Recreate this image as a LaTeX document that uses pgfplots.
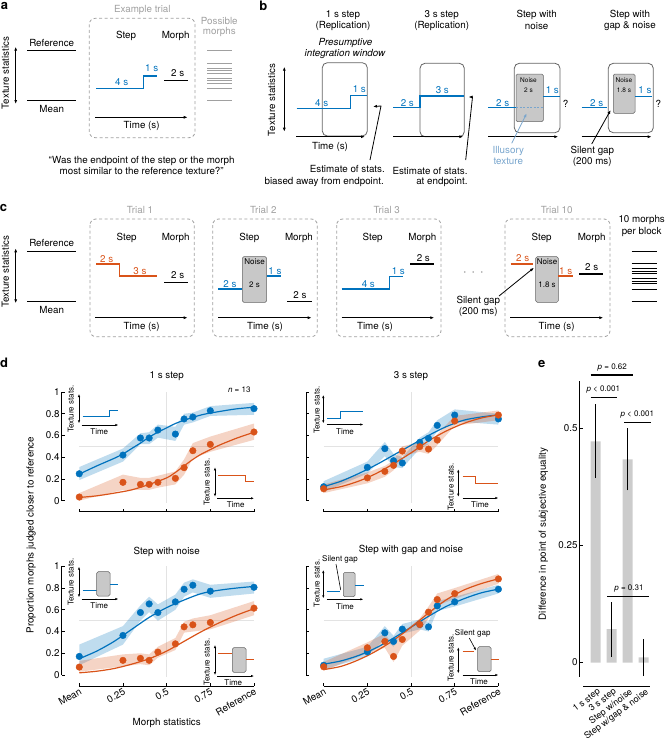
\documentclass[border=0pt]{standalone}
\usepackage{pgfplots}
\pgfplotsset{compat=1.18}
\usepackage{fontspec}
\setmainfont{TeX Gyre Heros}
\usetikzlibrary{arrows.meta}
\definecolor{mblue}{RGB}{0,114,189}
\definecolor{morange}{RGB}{217,83,25}
\definecolor{lblue}{RGB}{120,165,205}
\definecolor{boxg}{RGB}{200,200,200}
\definecolor{boxe}{RGB}{100,100,100}
\definecolor{dashg}{RGB}{160,160,160}
\definecolor{barg}{RGB}{204,204,204}
\newcommand\fa{\fontsize{9.8}{11}\selectfont}
\newcommand\fe{\fontsize{9}{10}\selectfont}
\newcommand\fb{\fontsize{8}{9}\selectfont}
\newcommand\fc{\fontsize{6.5}{7.5}\selectfont}
\newcommand\fl{\fontsize{13}{14}\selectfont\bfseries}
\tikzset{
 t/.style={font=\fa, inner sep=0pt},
 ts/.style={font=\fb, inner sep=0pt},
 tn/.style={font=\fc, inner sep=0pt},
 pl/.style={font=\fl, inner sep=0pt},
 dbox/.style={dashg, line width=0.8pt, dash pattern=on 3pt off 2.5pt, rounded corners=6pt},
 wbox/.style={boxe, line width=0.8pt, rounded corners=5pt},
 nbox/.style={fill=boxg, draw=boxe, line width=0.5pt, rounded corners=1.5pt},
 arr/.style={-{Latex[length=4pt,width=3pt]}, line width=0.8pt},
 darr/.style={{Latex[length=4pt,width=3pt]}-{Latex[length=4pt,width=3pt]}, line width=0.8pt},
 sarr/.style={-{Latex[length=3pt,width=2.4pt]}, line width=0.6pt},
 sdarr/.style={{Latex[length=3pt,width=2.4pt]}-{Latex[length=3pt,width=2.4pt]}, line width=0.6pt},
}
\pgfplotsset{
 sl/.style={line width=1.1pt},
 il/.style={line width=0.9pt},
 dax/.style={anchor=south west, scale only axis, width=192.2pt, height=119.6pt,
   xmin=-0.1, xmax=1, ymin=-0.1, ymax=1, axis line style={draw=none},
   tick pos=left, tick align=inside, major tick length=3pt,
   tick style={black, line width=0.6pt},
   xtick={0,0.25,0.5,0.75,1}, ytick={0,0.2,0.4,0.6,0.8,1}, clip=false,
   tick label style={font=\fa},
   xticklabel style={rotate=30, anchor=north east, inner sep=1pt},
   yticklabel style={inner sep=2pt}},
 band/.style={draw=none, fill=#1, fill opacity=0.25},
 fit/.style={#1, line width=1.2pt, smooth},
 pts/.style={#1, only marks, mark=*, mark size=3.3pt},
}
\newcommand\axdeco{%
 \draw[gray!22, line width=0.5pt] (axis cs:0.5,-0.02) -- (axis cs:0.5,1);
 \draw[gray!22, line width=0.5pt] (axis cs:0,0.5) -- (axis cs:1,0.5);
 \draw[line width=0.6pt] (axis cs:-0.1,0) -- (axis cs:-0.1,1);
 \draw[line width=0.6pt] (axis cs:0,-0.1) -- (axis cs:1,-0.1);}
\begin{document}
\begin{tikzpicture}
% ---------------- d: 1 s step
\begin{axis}[dax, at={(61.8pt,228.4pt)}, xticklabels={}, yticklabels={0,0.2,0.4,0.6,0.8,1}]
\axdeco
\addplot[band=mblue] coordinates {(0,.31)(.25,.48)(.35,.62)(.4,.63)(.45,.70)(.55,.68)(.6,.80)(.65,.81)(.75,.87)(1,.90)(1,.79)(.75,.78)(.65,.72)(.6,.70)(.55,.55)(.45,.58)(.4,.52)(.35,.52)(.25,.36)(0,.19)};
\addplot[band=morange] coordinates {(0,.07)(.25,.24)(.35,.21)(.4,.21)(.45,.23)(.55,.27)(.6,.38)(.65,.53)(.75,.59)(1,.71)(1,.56)(.75,.45)(.65,.39)(.6,.24)(.55,.15)(.45,.12)(.4,.10)(.35,.10)(.25,.10)(0,0)};
\addplot[fit=mblue] coordinates {(0,.245)(.1,.32)(.2,.39)(.25,.43)(.3,.48)(.35,.53)(.4,.585)(.45,.63)(.5,.67)(.55,.71)(.6,.74)(.7,.79)(.8,.82)(.9,.845)(1,.86)};
\addplot[fit=morange] coordinates {(0,.03)(.1,.045)(.2,.07)(.3,.1)(.4,.15)(.5,.21)(.55,.26)(.6,.32)(.65,.38)(.7,.43)(.75,.47)(.8,.51)(.9,.575)(1,.63)};
\addplot[pts=mblue] coordinates {(0,0.248)(0.25,0.42)(0.35,0.577)(0.4,0.577)(0.45,0.65)(0.55,0.613)(0.6,0.752)(0.65,0.77)(0.75,0.828)(1,0.847)};
\addplot[pts=morange] coordinates {(0,.034)(.25,.169)(.35,.15)(.4,.15)(.45,.169)(.55,.206)(.6,.304)(.65,.46)(.75,.518)(1,.632)};
\end{axis}

% ---------------- d: 3 s step
\begin{axis}[dax, at={(306.2pt,228.4pt)}, xticklabels={}, yticklabels={}]
\axdeco
\addplot[band=mblue] coordinates {(0,.18)(.25,.36)(.35,.54)(.4,.43)(.45,.40)(.55,.58)(.6,.63)(.65,.74)(.75,.84)(1,.80)(1,.70)(.75,.73)(.65,.64)(.6,.52)(.55,.48)(.45,.30)(.4,.31)(.35,.41)(.25,.25)(0,.08)};
\addplot[band=morange] coordinates {(0,.15)(.25,.26)(.35,.32)(.4,.37)(.45,.50)(.55,.54)(.6,.52)(.65,.61)(.75,.78)(1,.83)(1,.74)(.75,.69)(.65,.51)(.6,.43)(.55,.45)(.45,.41)(.4,.28)(.35,.22)(.25,.16)(0,.07)};
\addplot[fit=mblue] coordinates {(0,.13)(.1,.18)(.2,.25)(.3,.33)(.4,.42)(.5,.51)(.6,.60)(.7,.68)(.8,.74)(.9,.77)(1,.79)};
\addplot[fit=morange] coordinates {(0,.10)(.1,.13)(.2,.18)(.3,.25)(.4,.34)(.5,.44)(.6,.55)(.7,.64)(.8,.71)(.9,.76)(1,.79)};
\addplot[pts=mblue] coordinates {(0,.129)(.25,.307)(.35,.479)(.4,.368)(.45,.347)(.55,.537)(.6,.574)(.65,.693)(.75,.788)(1,.752)};
\addplot[pts=morange] coordinates {(0,.11)(.25,.21)(.35,.27)(.4,.325)(.45,.457)(.55,.497)(.6,.475)(.65,.558)(.75,.733)(1,.788)};
\end{axis}

% ---------------- d: step with noise
\begin{axis}[dax, at={(61.8pt,54.1pt)}, xticklabels={Mean,0.25,0.5,0.75,Reference}, yticklabels={0,0.2,0.4,0.6,0.8,1}]
\axdeco
\addplot[band=mblue] coordinates {(0,.28)(.25,.45)(.35,.64)(.4,.72)(.45,.65)(.55,.74)(.6,.85)(.65,.88)(.75,.83)(1,.86)(1,.75)(.75,.71)(.65,.76)(.6,.72)(.55,.60)(.45,.50)(.4,.58)(.35,.50)(.25,.28)(0,.09)};
\addplot[band=morange] coordinates {(0,.13)(.25,.19)(.35,.20)(.4,.19)(.45,.26)(.55,.34)(.6,.49)(.65,.52)(.75,.55)(1,.68)(1,.55)(.75,.42)(.65,.40)(.6,.39)(.55,.23)(.45,.16)(.4,.09)(.35,.10)(.25,.08)(0,.03)};
\addplot[fit=mblue] coordinates {(0,.15)(.1,.22)(.2,.31)(.3,.42)(.4,.53)(.5,.62)(.6,.69)(.7,.75)(.8,.78)(.9,.80)(1,.815)};
\addplot[fit=morange] coordinates {(0,.02)(.1,.035)(.2,.06)(.3,.10)(.4,.15)(.5,.22)(.6,.31)(.7,.40)(.8,.48)(.9,.55)(1,.61)};
\addplot[pts=mblue] coordinates {(0,.171)(.25,.364)(.35,.575)(.4,.654)(.45,.575)(.55,.673)(.6,.789)(.65,.826)(.75,.771)(1,.807)};
\addplot[pts=morange] coordinates {(0,.073)(.25,.135)(.35,.153)(.4,.135)(.45,.211)(.55,.287)(.6,.443)(.65,.462)(.75,.483)(1,.615)};
\end{axis}

% ---------------- d: step with gap and noise
\begin{axis}[dax, at={(306.2pt,54.1pt)}, xticklabels={Mean,0.25,0.5,0.75,Reference}, yticklabels={}]
\axdeco
\addplot[band=mblue] coordinates {(0,.15)(.25,.26)(.35,.45)(.4,.36)(.45,.47)(.55,.51)(.6,.49)(.65,.68)(.75,.72)(1,.83)(1,.75)(.75,.63)(.65,.59)(.6,.40)(.55,.42)(.45,.38)(.4,.26)(.35,.33)(.25,.17)(0,.05)};
\addplot[band=morange] coordinates {(0,.12)(.25,.30)(.35,.38)(.4,.27)(.45,.39)(.55,.52)(.6,.63)(.65,.75)(.75,.80)(1,.93)(1,.84)(.75,.70)(.65,.64)(.6,.52)(.55,.41)(.45,.27)(.4,.12)(.35,.25)(.25,.20)(0,.04)};
\addplot[fit=mblue] coordinates {(0,.10)(.1,.13)(.2,.18)(.3,.25)(.4,.34)(.5,.44)(.6,.54)(.7,.63)(.8,.70)(.9,.755)(1,.79)};
\addplot[fit=morange] coordinates {(0,.05)(.1,.08)(.2,.14)(.3,.22)(.4,.32)(.5,.44)(.6,.57)(.7,.69)(.8,.78)(.9,.84)(1,.885)};
\addplot[pts=mblue] coordinates {(0,.09)(.25,.214)(.35,.388)(.4,.309)(.45,.422)(.55,.465)(.6,.443)(.65,.636)(.75,.673)(1,.789)};
\addplot[pts=morange] coordinates {(0,.076)(.25,.251)(.35,.309)(.4,.171)(.45,.327)(.55,.465)(.6,.578)(.65,.694)(.75,.749)(1,.884)};
\end{axis}

% ---------------- e
\begin{axis}[anchor=south west, at={(579.7pt,54pt)}, scale only axis, width=72pt, height=305pt,
  xmin=0, xmax=4.5, ymin=-0.05, ymax=0.6, axis line style={draw=none},
  tick pos=left, tick align=inside, major tick length=3pt, tick style={black,line width=0.6pt},
  xtick={1,2,3,4}, xticklabels={1 s step,3 s step,Step w/noise,Step w/gap \& noise},
  xtick style={draw=none}, ytick={0,0.25,0.5}, yticklabels={0,0.25,0.5},
  tick label style={font=\fa}, xticklabel style={font=\fe, rotate=37, anchor=north east, inner sep=0pt, yshift=-2pt},
  yticklabel style={inner sep=2pt}, clip=false]
\addplot[ybar, bar width=10pt, bar shift=0pt, fill=barg, draw=none] coordinates {(1,0.4716)(2,0.071)(3,0.433)(4,0.011)};
\addplot[black, line width=1.2pt] coordinates {(1,0.393)(1,0.55)};
\addplot[black, line width=1.2pt] coordinates {(2,0.012)(2,0.129)};
\addplot[black, line width=1.2pt] coordinates {(3,0.367)(3,0.499)};
\addplot[black, line width=1.2pt] coordinates {(4,-0.029)(4,0.051)};
\draw[line width=0.6pt] (axis cs:0,-0.03) -- (axis cs:0,0.6);
\draw[line width=0.6pt] (axis cs:0.23,-0.05) -- (axis cs:4.4,-0.05);
\end{axis}

% ---------------- background axis: schematics and annotations (pixel coordinates)
\begin{axis}[name=bg, at={(0,0)}, anchor=south west, scale only axis, width=667pt, height=740pt,
  xmin=0, xmax=667, ymin=0, ymax=740, y dir=reverse, hide axis, clip=false]
% ---------------- panel a
\node[pl] at (4.5,5.5) {a};
\node[t,rotate=90] at (5.5,73) {Texture statistics};
\draw[darr] (15.7,46.7) -- (15.7,104);
\addplot[black, line width=1pt] coordinates {(27.3,50.7)(76,50.7)};
\addplot[black, line width=1pt] coordinates {(27.3,100.7)(76,100.7)};
\node[t] at (51.7,42.7) {Reference};
\node[t] at (51.7,109) {Mean};
\node[t, dashg] at (142.3,10) {Example trial};
\draw[dbox] (89.3,18.3) rectangle (195,137.7);
\node[t] at (126,36) {Step};
\node[t] at (175.7,36) {Morph};
\addplot[mblue, sl] coordinates {(96,88.3)(143.3,88.3)(143.3,76)(157.3,76)};
\node[t, mblue] at (121.7,82) {4 s};
\node[t, mblue] at (151.7,68.5) {1 s};
\addplot[black, sl] coordinates {(164,80.7)(187.7,80.7)};
\node[t] at (177.7,73) {2 s};
\draw[arr] (95,117.3) -- (187.7,117.3);
\node[t] at (141.7,126) {Time (s)};
\node[t, dashg] at (219.3,20.7) {Possible};
\node[t, dashg] at (219.3,32.3) {morphs};
\pgfplotsinvokeforeach{50.7,63.2,68.2,70.7,73.2,78.2,80.7,83.2,88.2,100.7}{\addplot[dashg, line width=0.9pt] coordinates {(207.3,#1)(231.7,#1)};}
\node[t] at (141.7,160.7) {``Was the endpoint of the step or the morph};
\node[t] at (141.7,171) {most similar to the reference texture?''};
% ---------------- panel b
\node[pl] at (263.3,5.5) {b};
\node[t,rotate=90] at (271.7,100) {Texture statistics};
\draw[darr] (284.3,66.7) -- (284.3,131.7);
\node[t] at (343,15) {1 s step};
\node[t] at (343,26) {(Replication)};
\node[t, font=\fa\itshape] at (345.5,42.7) {Presumptive};
\node[t, font=\fa\itshape] at (345,54) {integration window};
\draw[wbox] (322.3,62.7) rectangle (367.3,136);
\addplot[mblue, sl] coordinates {(296.7,108.3)(350.7,108.3)(350.7,95.7)(366.7,95.7)};
\node[t, mblue] at (321.7,103) {4 s};
\node[t, mblue] at (359.3,89.3) {1 s};
\draw[arr] (296,136.7) -- (365,136.7);
\node[t] at (330,146.7) {Time (s)};
\draw[arr] (370,160) -- (381,106) -- (373,106.5);
\node[t, anchor=east] at (385,169.3) {Estimate of stats.};
\node[t, anchor=east] at (384,181.7) {biased away from endpoint.};
\node[t] at (441.7,15) {3 s step};
\node[t] at (441.7,26) {(Replication)};
\draw[wbox] (420,63.3) rectangle (464.3,136.7);
\addplot[mblue, sl] coordinates {(393.3,107.7)(420,107.7)(420,96)(464.3,96)};
\node[t, mblue] at (407.3,103) {2 s};
\node[t, mblue] at (442.3,90.5) {3 s};
\draw[arr] (393.3,136.7) -- (463.3,136.7);
\draw[arr] (465.7,160) -- (472.5,97) -- (468.5,97);
\node[t, anchor=east] at (467.7,170.7) {Estimate of stats.};
\node[t, anchor=east] at (467.7,181.7) {at endpoint.};
\node[t] at (536.7,15) {Step with};
\node[t] at (536.7,26) {noise};
\draw[wbox] (514.3,63.3) rectangle (560,132.7);
\draw[nbox] (516,74) rectangle (543.3,121.7);
\node[tn] at (528.5,80) {Noise};
\node[tn] at (528.5,90.7) {2 s};
\addplot[mblue, sl] coordinates {(488.3,107.7)(516,107.7)};
\addplot[lblue, line width=1.1pt, dash pattern=on 2pt off 1.5pt] coordinates {(516,107.7)(543.3,107.7)};
\addplot[mblue, sl] coordinates {(543.3,96.7)(560,96.7)};
\node[t, mblue] at (502.7,103) {2 s};
\node[t, mblue] at (552.3,90.5) {1 s};
\node[t] at (565.7,104) {?};
\draw[arr] (488.3,136.7) -- (558.3,136.7);
\node[t, lblue] at (508.3,150.7) {Illusory};
\node[t, lblue] at (508.3,161.7) {texture};
\draw[arr, lblue] (511.7,143.3) -- (526.7,113.3);
\node[t] at (630,15) {Step with};
\node[t] at (630,26) {gap \& noise};
\draw[wbox] (608.3,63.3) rectangle (653.3,132.7);
\draw[nbox] (613.3,74) rectangle (635,113.3);
\node[tn] at (624,80) {Noise};
\node[tn] at (624,90.7) {1.8 s};
\addplot[mblue, sl] coordinates {(581.7,107.7)(607.3,107.7)};
\addplot[mblue, sl] coordinates {(635,96.7)(651.7,96.7)};
\node[t, mblue] at (596.7,103) {2 s};
\node[t, mblue] at (645,90.5) {1 s};
\node[t] at (658.3,104) {?};
\draw[arr] (581.7,136.7) -- (651.7,136.7);
\draw[arr] (591.7,144) -- (610.7,110);
\node[t] at (592.3,150.5) {Silent gap};
\node[t] at (592.3,161.7) {(200 ms)};
% ---------------- panel c
\node[pl] at (3.5,208.3) {c};
\node[t,rotate=90] at (5.5,271.7) {Texture statistics};
\draw[darr] (15.7,248.3) -- (15.7,303.3);
\addplot[black,line width=1pt] coordinates {(27.3,251.7)(76,251.7)};
\addplot[black,line width=1pt] coordinates {(27.3,301.7)(76,301.7)};
\node[t] at (51.7,243.3) {Reference};
\node[t] at (51.7,310) {Mean};
\draw[dbox] (90,219) rectangle (194.3,336.7);
\draw[dbox] (212.7,219) rectangle (317.3,336.7);
\draw[dbox] (336.7,219) rectangle (441,336.7);
\draw[dbox] (505,219) rectangle (610,336.7);
\node[t,dashg] at (140,210) {Trial 1};
\node[t,dashg] at (263.3,210) {Trial 2};
\node[t,dashg] at (386.7,210) {Trial 3};
\node[t,dashg] at (556.7,210) {Trial 10};
\node[t] at (126.7,237.7) {Step}; \node[t] at (175.7,237.7) {Morph};
\node[t] at (249.3,237.7) {Step}; \node[t] at (299,237.7) {Morph};
\node[t] at (372.7,237.7) {Step}; \node[t] at (422.3,237.7) {Morph};
\node[t] at (541.7,237.7) {Step}; \node[t] at (591.7,237.7) {Morph};
\addplot[morange, sl] coordinates {(96,264)(119.3,264)(119.3,276)(157.3,276)};
\node[t,morange] at (106.7,259) {2 s};
\node[t,morange] at (140,271) {3 s};
\addplot[black, sl] coordinates {(164,282.3)(187.7,282.3)};
\node[t] at (177.7,275) {2 s};
\addplot[mblue, sl] coordinates {(218.3,289)(242.3,289)};
\draw[nbox] (242.3,256.7) rectangle (266.7,302.3);
\node[ts] at (254.5,261.5) {Noise};
\node[ts] at (254.5,284.3) {2 s};
\addplot[mblue, sl] coordinates {(267.3,276)(281,276)};
\node[t,mblue] at (230,284) {2 s};
\node[t,mblue] at (275,271) {1 s};
\addplot[black, sl] coordinates {(287.3,301.7)(311.7,301.7)};
\node[t] at (300,295) {2 s};
\addplot[mblue, sl] coordinates {(341.7,289)(389.3,289)(389.3,276.7)(403.3,276.7)};
\node[t,mblue] at (368.3,284) {4 s};
\node[t,mblue] at (398.3,271) {1 s};
\addplot[black, sl] coordinates {(410,264)(434.3,264)};
\node[t] at (423.3,258) {2 s};
\node[inner sep=0pt, dashg, font=\fontsize{16}{16}\selectfont] at (473.3,274) {·\hspace{4pt}·\hspace{4pt}·};
\addplot[morange, sl] coordinates {(510.7,264)(533.3,264)};
\draw[nbox] (535.7,256.7) rectangle (558.3,302.3);
\node[ts] at (547,261.5) {Noise};
\node[ts] at (547,284.3) {1.8 s};
\addplot[morange, sl] coordinates {(558.3,276)(573.3,276)};
\node[t,morange] at (522.7,258.3) {2 s};
\node[t,morange] at (565.7,271) {1 s};
\addplot[black, sl] coordinates {(579.3,274)(603.3,274)};
\node[t] at (591.7,266.7) {2 s};
\draw[arr] (499,296) -- (534,267.7);
\node[t] at (478.3,300.5) {Silent gap};
\node[t] at (478.3,311.7) {(200 ms)};
\node[t] at (641.7,220) {10 morphs};
\node[t] at (641.7,232.3) {per block};
\pgfplotsinvokeforeach{251,263.7,268.7,271.3,273.8,278.9,281.4,283.9,289,301.7}{\addplot[black, line width=1pt] coordinates {(631.7,#1)(656.7,#1)};}
\draw[arr] (95,317.7) -- (187.7,317.7); \node[t] at (141.7,326.5) {Time (s)};
\draw[arr] (218.3,317.7) -- (311.7,317.7); \node[t] at (265,326.5) {Time (s)};
\draw[arr] (341.7,317.7) -- (434.3,317.7); \node[t] at (375,326.5) {Time (s)};
\draw[arr] (510,317.7) -- (603.3,317.7); \node[t] at (556.7,326.5) {Time (s)};
% ---------------- panel d texts and insets
\node[pl] at (4,363) {d};
\node[t] at (166.7,375.7) {1 s step};
\node[t] at (411,375.7) {3 s step};
\node[t] at (166.7,551.5) {Step with noise};
\node[t] at (411,550) {Step with gap and noise};
\node[ts] at (239.3,389.3) {\textit{n} = 13};
\node[t,rotate=90] at (31,535) {Proportion morphs judged closer to reference};
\node[t] at (166.7,723.3) {Morph statistics};
% TL insets
\node[ts,rotate=90] at (70.7,409) {Texture stats.};
\draw[sdarr] (79,394) -- (79,423.3);
\draw[sarr] (81.7,425) -- (118.3,425);
\node[ts] at (99.3,431.7) {Time};
\addplot[mblue, il] coordinates {(82.7,416.7)(109.3,416.7)(109.3,410)(118.3,410)};
\node[ts,rotate=90] at (206.7,482) {Texture stats.};
\draw[sdarr] (215,467.3) -- (215,496.7);
\draw[sarr] (217.3,498.3) -- (254,498.3);
\node[ts] at (235.7,505) {Time};
\addplot[morange, il] coordinates {(218.3,475)(245.7,475)(245.7,481.7)(254,481.7)};
% TR insets
\node[ts,rotate=90] at (316.7,410) {Texture stats.};
\draw[sdarr] (323.3,395) -- (323.3,423.3);
\draw[sarr] (326.7,424.5) -- (363.3,424.5);
\node[ts] at (345,431.7) {Time};
\addplot[mblue, il] coordinates {(327.3,418.3)(340,418.3)(340,411.7)(362.7,411.7)};
\node[ts,rotate=90] at (450.7,486.7) {Texture stats.};
\draw[sdarr] (458.3,469.3) -- (458.3,496.7);
\draw[sarr] (462.7,498) -- (498.3,498);
\node[ts] at (480,505) {Time};
\addplot[morange, il] coordinates {(462.7,476)(475.7,476)(475.7,483.3)(498.3,483.3)};
% BL insets
\node[ts,rotate=90] at (70.7,582) {Texture stats.};
\draw[sdarr] (79,566.7) -- (79,597.3);
\draw[sarr] (81.7,599) -- (118.3,599);
\node[ts] at (99.3,605.7) {Time};
\addplot[mblue, il] coordinates {(82.7,590.7)(96.7,590.7)};
\draw[nbox] (96.7,571.7) rectangle (110,596);
\addplot[mblue, il] coordinates {(110,584.3)(118.3,584.3)};
\node[ts,rotate=90] at (206.7,662) {Texture stats.};
\draw[sdarr] (215,645) -- (215,675);
\draw[sarr] (217.3,676) -- (254,676);
\node[ts] at (233.3,682.3) {Time};
\addplot[morange, il] coordinates {(218.3,653.3)(232.3,653.3)};
\draw[nbox] (232.3,647.7) rectangle (246,672.3);
\addplot[morange, il] coordinates {(246,659.3)(254,659.3)};
% BR insets
\node[ts] at (340,559) {Silent gap};
\node[ts,rotate=90] at (316.7,583.3) {Texture stats.};
\draw[sdarr] (323.3,570) -- (323.3,598.3);
\draw[sarr] (326.7,599.3) -- (363.3,599.3);
\node[ts] at (345,606.7) {Time};
\addplot[mblue, il] coordinates {(327.3,591.7)(340,591.7)};
\draw[nbox] (343.3,572.3) rectangle (355,596.7);
\addplot[mblue, il] coordinates {(355,585)(364,585)};
\draw[line width=0.6pt] (336,564) -- (340.7,590);
\node[ts] at (472.7,633.3) {Silent gap};
\draw[sarr] (469.3,638) -- (476,650.5);
\node[ts,rotate=90] at (450.7,658) {Texture stats.};
\draw[sdarr] (458.3,647.3) -- (458.3,673.3);
\draw[sarr] (462.7,675) -- (498.3,675);
\node[ts] at (479,681.7) {Time};
\addplot[morange, il] coordinates {(462.7,651.7)(474,651.7)};
\draw[nbox] (477.7,646.7) rectangle (491,671.7);
\addplot[morange, il] coordinates {(491,659)(499,659)};
% ---------------- panel e texts
\node[pl] at (541.7,364) {e};
\node[t,rotate=90] at (543.3,534) {Difference in point of subjective equality};
\node[ts] at (612.3,367.7) {\textit{p} = 0.62};
\addplot[black, line width=1.2pt] coordinates {(590.7,375)(633.3,375)};
\node[ts] at (603.3,389.3) {\textit{p} < 0.001};
\addplot[black, line width=1.2pt] coordinates {(590.7,397.3)(617.3,397.3)};
\node[ts] at (637.3,414.3) {\textit{p} < 0.001};
\addplot[black, line width=1.2pt] coordinates {(624,422.3)(650.7,422.3)};
\node[ts] at (629,588.3) {\textit{p} = 0.31};
\addplot[black, line width=1.2pt] coordinates {(607.3,596.7)(649,596.7)};
\path (0,0) rectangle (667,740);
\end{axis}
\pgfresetboundingbox
\path (bg.south west) rectangle (bg.north east);
\end{tikzpicture}
\end{document}
